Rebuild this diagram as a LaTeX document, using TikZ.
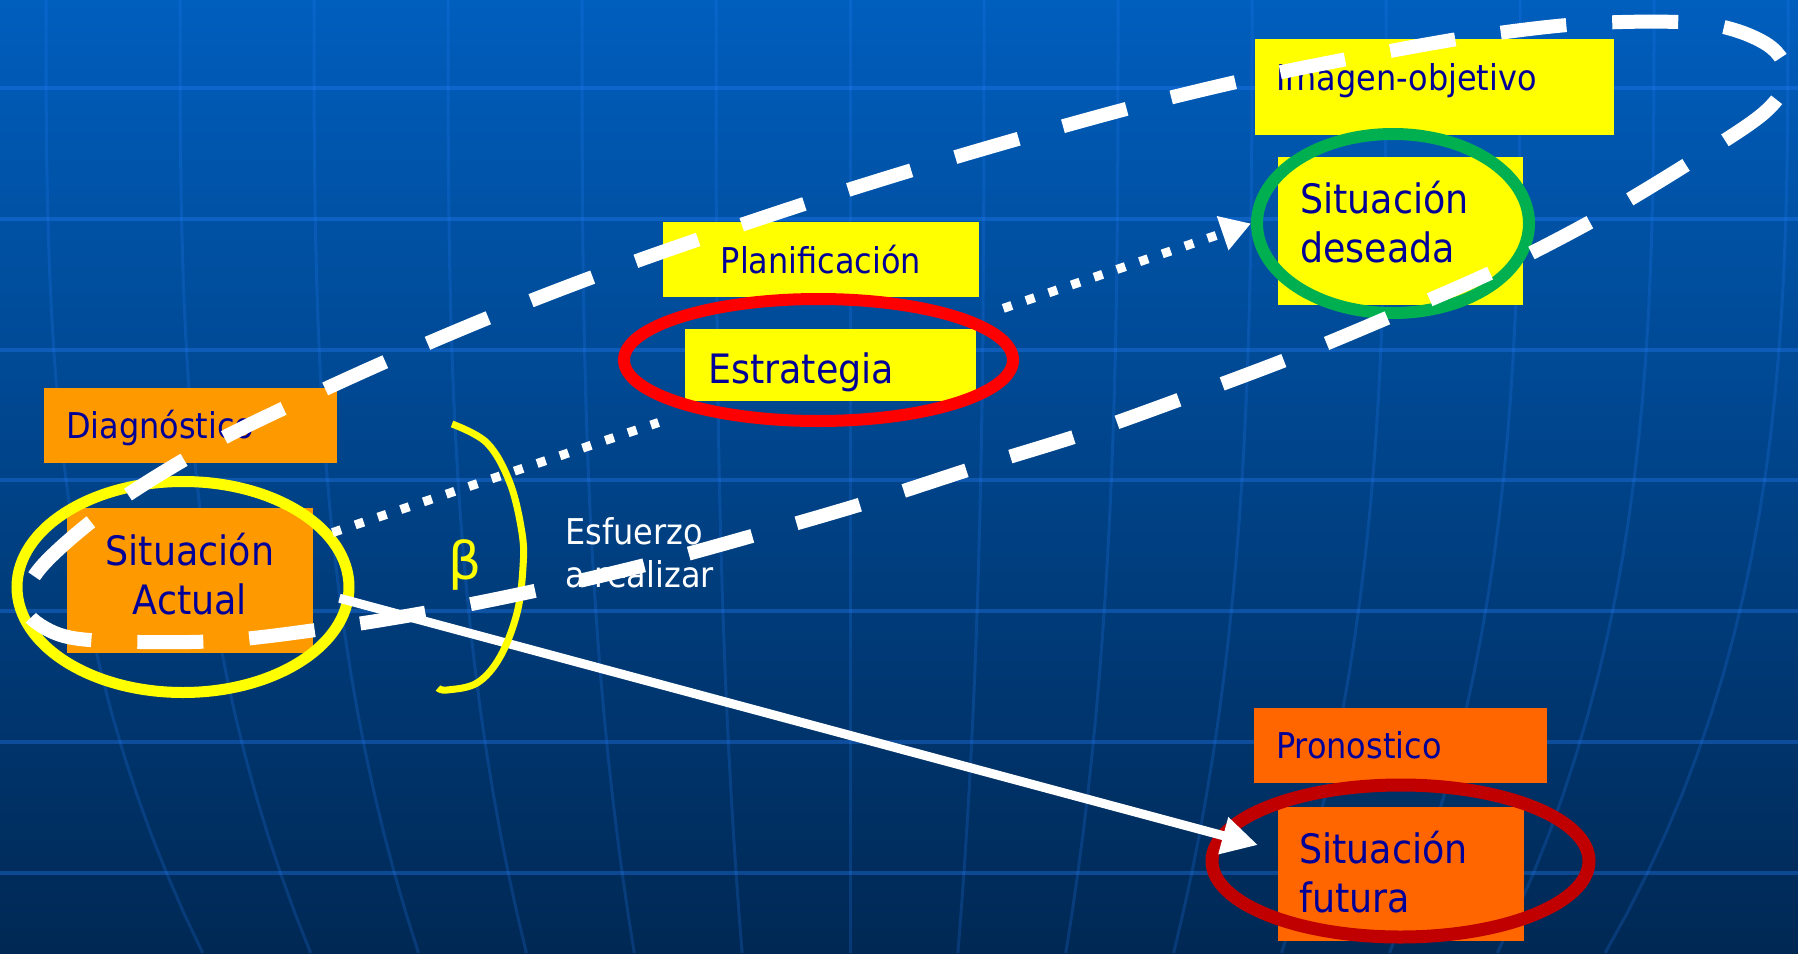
\documentclass[tikz,border=0pt]{standalone}
\usepackage{fontspec}
\setmainfont{DejaVu Sans Condensed}
\newfontfamily\betafont{DejaVu Sans}
\usetikzlibrary{shapes.geometric,arrows.meta}
\definecolor{bgtop}{RGB}{0,94,189}
\definecolor{bgbot}{RGB}{0,40,84}
\definecolor{gridc}{RGB}{40,130,255}
\definecolor{navytext}{RGB}{0,0,153}
\definecolor{orgA}{RGB}{255,153,0}
\definecolor{orgB}{RGB}{255,102,0}
\definecolor{ylw}{RGB}{255,255,0}
\definecolor{grn}{RGB}{0,176,80}
\definecolor{dred}{RGB}{192,0,0}
\newcommand\fBig{\fontsize{40.5}{49}\selectfont}
\newcommand\fSmall{\fontsize{35.5}{43}\selectfont}
\newcommand\TwoL[2]{\vtop{\halign{##\hfil\cr #1\cr #2\cr}}}
\newcommand\TwoC[2]{\vtop{\halign{\hfil##\hfil\cr #1\cr #2\cr}}}
\begin{document}
\begin{tikzpicture}[x=1pt,y=-1pt,
  hgrid/.style={draw=gridc, line width=4pt, opacity=0.33},
  vgrid/.style={draw=gridc, line width=3pt, opacity=0.2},
  box/.style={rectangle, draw=none, inner sep=0pt, anchor=north west},
  ring/.style={ellipse, draw, inner sep=0pt, fill=none},
  lbl/.style={inner sep=0pt, text=navytext},
  dotline/.style={draw=white, line width=9pt, dash pattern=on 9pt off 15pt},
  loopdash/.style={draw=white, line width=14pt, dash pattern=on 66pt off 46pt}]
\useasboundingbox (0,0) rectangle (1798,953);
\shade[top color=bgtop, bottom color=bgbot] (0,0) rectangle (1798,953);
\foreach \yy in {88,218.8,349.6,480.4,611.2,742,872.8}
  \draw[hgrid] (0,\yy) -- (1798,\yy);
\foreach \k in {-6,...,7}
  \draw[vgrid] plot[domain=0:953, samples=25, variable=\t]
    ({850+134*\k*(1-0.195*(\t/953)^3)},{\t});

% boxes
\node[box, fill=orgA, minimum width=293pt, minimum height=75pt] (diag) at (44,388) {};
\node[box, fill=orgA, minimum width=246pt, minimum height=145pt] (actual) at (67,508) {};
\node[box, fill=ylw, minimum width=316pt, minimum height=75pt] (plan) at (663,222) {};
\node[box, fill=ylw, minimum width=291pt, minimum height=72pt] (estr) at (685,329) {};
\node[box, fill=ylw, minimum width=359pt, minimum height=96pt] (imagen) at (1255,39) {};
\node[box, fill=ylw, minimum width=245pt, minimum height=148pt] (deseada) at (1278,157) {};
\node[box, fill=orgB, minimum width=293pt, minimum height=75pt] (pron) at (1254,708) {};
\node[box, fill=orgB, minimum width=246pt, minimum height=134pt] (futura) at (1278,807) {};

% texts
\node[lbl, anchor=base west, font=\fSmall] (diagT) at (66,438) {Diagnóstico};
\node[lbl, anchor=base, font=\fBig] (actualT) at (190,565) {\TwoC{Situación}{Actual}};
\node[lbl, anchor=base, font=\fSmall] (planT) at (821,273) {Planificación};
\node[lbl, anchor=base west, font=\fBig] (estrT) at (708,383) {Estrategia};
\node[lbl, anchor=base west, font=\fSmall] (imagenT) at (1276,90) {Imagen-objetivo};
\node[lbl, anchor=base west, font=\fBig] (deseadaT) at (1300,213) {\TwoL{Situación}{deseada}};
\node[lbl, anchor=base west, font=\fSmall] (pronT) at (1276,758) {Pronostico};
\node[lbl, anchor=base west, font=\fBig] (futuraT) at (1299,863) {\TwoL{Situación}{futura}};
\node[inner sep=0pt, text=white, anchor=base west, font=\fSmall] (esfT) at (565,544) {\TwoL{Esfuerzo}{a realizar}};
\node[inner sep=0pt, text=ylw, anchor=base west, font=\betafont\fontsize{52}{60}\selectfont] (beta) at (448,579) {β};

% rings
\node[ring, draw=ylw, line width=11pt, minimum width=332pt, minimum height=211pt] (ya) at (183,587) {};
\node[ring, draw=red, line width=12pt, minimum width=389pt, minimum height=122pt] (re) at (818.5,360) {};
\node[ring, draw=grn, line width=12pt, minimum width=272pt, minimum height=179pt] (gr) at (1393,223.5) {};
\node[ring, draw=dred, line width=13pt, minimum width=377pt, minimum height=152pt] (dr) at (1400.5,861) {};

% connectors
\coordinate (ftip) at (1258,845);
\draw[dotline, shorten >=34pt] (ya.20) -- (re.202);
\draw[dotline, shorten <=30pt, -{Triangle[length=30pt,width=34pt]}] (re.15) -- (gr.west);
\draw[draw=white, line width=9pt, shorten <=-14pt, -{Triangle[length=36pt,width=36pt]}] (ya.-5) -- (ftip);

% bracket
\draw[ylw, line width=7pt] plot[smooth, tension=0.6] coordinates {(452,424) (487,443) (510,483) (522,533) (523,567) (517,613) (500,657) (477,683) (447,690) (438,688)};

% big dashed loop
\draw[loopdash] plot[smooth cycle, tension=0.55] coordinates {
 (24,607) (42,566) (113,505) (210,445) (310,396) (412,350) (515,307) (620,267)
 (726,230) (832,195) (939,162) (1046,131) (1153,102) (1263,76) (1374,54)
 (1484,35) (1595,23) (1707,24) (1768,45) (1787,77) (1765,112) (1697,158)
 (1601,216) (1503,267) (1401,312) (1298,355) (1192,395) (1086,433) (980,466)
 (872,501) (766,532) (657,562) (548,588) (440,610) (330,628) (218,641)
 (106,641) (55,633)};
\end{tikzpicture}
\end{document}
